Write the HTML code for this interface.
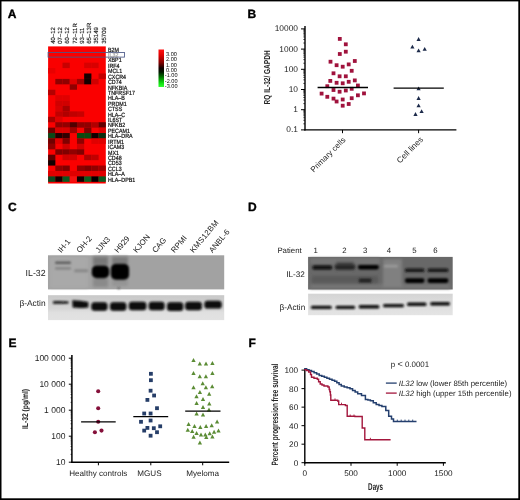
<!DOCTYPE html>
<html><head><meta charset="utf-8"><title>Figure</title>
<style>html,body{margin:0;padding:0;background:#fff;width:520px;height:500px;overflow:hidden}svg{display:block;font-family:"Liberation Sans",sans-serif}</style>
</head><body>
<svg width="520" height="500" viewBox="0 0 520 500" text-rendering="geometricPrecision"><defs><filter id="gb" x="0" y="0" width="100%" height="100%" color-interpolation-filters="sRGB"><feGaussianBlur stdDeviation="0.35"/></filter></defs>
<g filter="url(#gb)">
<rect x="0" y="0" width="520" height="500" fill="#fff"/>
<text x="7.8" y="17.9" font-size="12" font-weight="bold" stroke="#000" stroke-width="0.35" font-family="'Liberation Sans', sans-serif">A</text>
<text x="247.6" y="17.9" font-size="12" font-weight="bold" stroke="#000" stroke-width="0.35" font-family="'Liberation Sans', sans-serif">B</text>
<text x="7.9" y="211.1" font-size="12" font-weight="bold" stroke="#000" stroke-width="0.35" font-family="'Liberation Sans', sans-serif">C</text>
<text x="248" y="211.1" font-size="12" font-weight="bold" stroke="#000" stroke-width="0.35" font-family="'Liberation Sans', sans-serif">D</text>
<text x="8.5" y="346.9" font-size="12" font-weight="bold" stroke="#000" stroke-width="0.35" font-family="'Liberation Sans', sans-serif">E</text>
<text x="248.5" y="346.9" font-size="12" font-weight="bold" stroke="#000" stroke-width="0.35" font-family="'Liberation Sans', sans-serif">F</text>
<rect x="48.1" y="46.4" width="57.68" height="137.1" fill="#fa0000"/>
<rect x="62.52" y="62.64" width="7.26" height="5.46" fill="#c80000"/>
<rect x="84.15" y="62.64" width="7.26" height="5.46" fill="#d80000"/>
<rect x="91.36" y="62.64" width="7.26" height="5.46" fill="#d80000"/>
<rect x="48.1" y="68.06" width="7.26" height="5.46" fill="#e80000"/>
<rect x="84.15" y="73.47" width="7.26" height="5.46" fill="#140000"/>
<rect x="98.57" y="73.47" width="7.26" height="5.46" fill="#c40000"/>
<rect x="55.31" y="78.89" width="7.26" height="5.46" fill="#900000"/>
<rect x="62.52" y="78.89" width="7.26" height="5.46" fill="#900000"/>
<rect x="69.73" y="78.89" width="7.26" height="5.46" fill="#e00000"/>
<rect x="76.94" y="78.89" width="7.26" height="5.46" fill="#a00000"/>
<rect x="84.15" y="78.89" width="7.26" height="5.46" fill="#140000"/>
<rect x="91.36" y="78.89" width="7.26" height="5.46" fill="#d00000"/>
<rect x="69.73" y="84.31" width="7.26" height="5.46" fill="#900000"/>
<rect x="48.1" y="89.72" width="7.26" height="5.46" fill="#b40000"/>
<rect x="55.31" y="95.13" width="7.26" height="5.46" fill="#e00000"/>
<rect x="62.52" y="95.13" width="7.26" height="5.46" fill="#e00000"/>
<rect x="55.31" y="100.55" width="7.26" height="5.46" fill="#d00000"/>
<rect x="62.52" y="100.55" width="7.26" height="5.46" fill="#d00000"/>
<rect x="55.31" y="105.97" width="7.26" height="5.46" fill="#d80000"/>
<rect x="62.52" y="105.97" width="7.26" height="5.46" fill="#a80000"/>
<rect x="55.31" y="111.38" width="7.26" height="5.46" fill="#c00000"/>
<rect x="62.52" y="111.38" width="7.26" height="5.46" fill="#b00000"/>
<rect x="69.73" y="111.38" width="7.26" height="5.46" fill="#c00000"/>
<rect x="76.94" y="111.38" width="7.26" height="5.46" fill="#c80000"/>
<rect x="48.1" y="116.79" width="7.26" height="5.46" fill="#a80000"/>
<rect x="55.31" y="116.79" width="7.26" height="5.46" fill="#e00000"/>
<rect x="55.31" y="122.21" width="7.26" height="5.46" fill="#900000"/>
<rect x="62.52" y="122.21" width="7.26" height="5.46" fill="#900000"/>
<rect x="69.73" y="122.21" width="7.26" height="5.46" fill="#500000"/>
<rect x="76.94" y="122.21" width="7.26" height="5.46" fill="#900000"/>
<rect x="84.15" y="122.21" width="7.26" height="5.46" fill="#900000"/>
<rect x="91.36" y="122.21" width="7.26" height="5.46" fill="#b00000"/>
<rect x="98.57" y="122.21" width="7.26" height="5.46" fill="#600000"/>
<rect x="48.1" y="127.62" width="7.26" height="5.46" fill="#700000"/>
<rect x="55.31" y="127.62" width="7.26" height="5.46" fill="#d80000"/>
<rect x="62.52" y="127.62" width="7.26" height="5.46" fill="#d80000"/>
<rect x="69.73" y="127.62" width="7.26" height="5.46" fill="#a00000"/>
<rect x="84.15" y="127.62" width="7.26" height="5.46" fill="#800000"/>
<rect x="98.57" y="127.62" width="7.26" height="5.46" fill="#e00000"/>
<rect x="48.1" y="133.04" width="7.26" height="5.46" fill="#0a4a18"/>
<rect x="55.31" y="133.04" width="7.26" height="5.46" fill="#200000"/>
<rect x="62.52" y="133.04" width="7.26" height="5.46" fill="#300000"/>
<rect x="76.94" y="133.04" width="7.26" height="5.46" fill="#0a4a10"/>
<rect x="84.15" y="133.04" width="7.26" height="5.46" fill="#0a4a10"/>
<rect x="91.36" y="133.04" width="7.26" height="5.46" fill="#100000"/>
<rect x="98.57" y="133.04" width="7.26" height="5.46" fill="#0a3010"/>
<rect x="48.1" y="138.46" width="7.26" height="5.46" fill="#700000"/>
<rect x="55.31" y="138.46" width="7.26" height="5.46" fill="#e00000"/>
<rect x="62.52" y="138.46" width="7.26" height="5.46" fill="#800000"/>
<rect x="76.94" y="138.46" width="7.26" height="5.46" fill="#900000"/>
<rect x="91.36" y="138.46" width="7.26" height="5.46" fill="#e00000"/>
<rect x="98.57" y="138.46" width="7.26" height="5.46" fill="#e00000"/>
<rect x="48.1" y="143.87" width="7.26" height="5.46" fill="#900000"/>
<rect x="62.52" y="143.87" width="7.26" height="5.46" fill="#d00000"/>
<rect x="76.94" y="143.87" width="7.26" height="5.46" fill="#d00000"/>
<rect x="55.31" y="149.28" width="7.26" height="5.46" fill="#800000"/>
<rect x="62.52" y="149.28" width="7.26" height="5.46" fill="#800000"/>
<rect x="69.73" y="149.28" width="7.26" height="5.46" fill="#900000"/>
<rect x="76.94" y="149.28" width="7.26" height="5.46" fill="#800000"/>
<rect x="48.1" y="154.7" width="7.26" height="5.46" fill="#600000"/>
<rect x="62.52" y="154.7" width="7.26" height="5.46" fill="#d00000"/>
<rect x="69.73" y="154.7" width="7.26" height="5.46" fill="#d00000"/>
<rect x="84.15" y="154.7" width="7.26" height="5.46" fill="#b00000"/>
<rect x="91.36" y="154.7" width="7.26" height="5.46" fill="#c00000"/>
<rect x="48.1" y="160.12" width="7.26" height="5.46" fill="#100000"/>
<rect x="55.31" y="165.53" width="7.26" height="5.46" fill="#900000"/>
<rect x="62.52" y="165.53" width="7.26" height="5.46" fill="#800000"/>
<rect x="76.94" y="165.53" width="7.26" height="5.46" fill="#900000"/>
<rect x="84.15" y="165.53" width="7.26" height="5.46" fill="#800000"/>
<rect x="91.36" y="165.53" width="7.26" height="5.46" fill="#900000"/>
<rect x="98.57" y="165.53" width="7.26" height="5.46" fill="#a00000"/>
<rect x="48.1" y="170.94" width="7.26" height="5.46" fill="#e00000"/>
<rect x="55.31" y="170.94" width="7.26" height="5.46" fill="#e00000"/>
<rect x="62.52" y="170.94" width="7.26" height="5.46" fill="#e00000"/>
<rect x="69.73" y="170.94" width="7.26" height="5.46" fill="#e00000"/>
<rect x="76.94" y="170.94" width="7.26" height="5.46" fill="#e00000"/>
<rect x="84.15" y="170.94" width="7.26" height="5.46" fill="#e00000"/>
<rect x="91.36" y="170.94" width="7.26" height="5.46" fill="#e00000"/>
<rect x="98.57" y="170.94" width="7.26" height="5.46" fill="#e00000"/>
<rect x="48.1" y="176.36" width="7.26" height="5.46" fill="#0a4a20"/>
<rect x="55.31" y="176.36" width="7.26" height="5.46" fill="#100000"/>
<rect x="62.52" y="176.36" width="7.26" height="5.46" fill="#0a5a20"/>
<rect x="69.73" y="176.36" width="7.26" height="5.46" fill="#f41010"/>
<rect x="76.94" y="176.36" width="7.26" height="5.46" fill="#100000"/>
<rect x="84.15" y="176.36" width="7.26" height="5.46" fill="#0a6020"/>
<rect x="91.36" y="176.36" width="7.26" height="5.46" fill="#000000"/>
<rect x="98.57" y="176.36" width="7.26" height="5.46" fill="#0a5a20"/>
<rect x="48.1" y="52.5" width="76.4" height="4.6" fill="none" stroke="#4a5888" stroke-width="0.85"/>
<g transform="matrix(0.86,0,0,1,15.12,0)">
<text x="108" y="51.65" font-size="6.2" font-family="'Liberation Sans', sans-serif" fill="#111" stroke="#111" stroke-width="0.22">B2M</text>
<text x="108" y="57.07" font-size="6.2" font-family="'Liberation Sans', sans-serif" fill="#a0a0a0" stroke="#a0a0a0" stroke-width="0.22">IL32</text>
<text x="108" y="62.48" font-size="6.2" font-family="'Liberation Sans', sans-serif" fill="#111" stroke="#111" stroke-width="0.22">XBP1</text>
<text x="108" y="67.9" font-size="6.2" font-family="'Liberation Sans', sans-serif" fill="#111" stroke="#111" stroke-width="0.22">IRF4</text>
<text x="108" y="73.31" font-size="6.2" font-family="'Liberation Sans', sans-serif" fill="#111" stroke="#111" stroke-width="0.22">MCL1</text>
<text x="108" y="78.73" font-size="6.2" font-family="'Liberation Sans', sans-serif" fill="#111" stroke="#111" stroke-width="0.22">CXCR4</text>
<text x="108" y="84.14" font-size="6.2" font-family="'Liberation Sans', sans-serif" fill="#111" stroke="#111" stroke-width="0.22">CD74</text>
<text x="108" y="89.56" font-size="6.2" font-family="'Liberation Sans', sans-serif" fill="#111" stroke="#111" stroke-width="0.22">NFKBIA</text>
<text x="108" y="94.97" font-size="6.2" font-family="'Liberation Sans', sans-serif" fill="#111" stroke="#111" stroke-width="0.22">TNFRSF17</text>
<text x="108" y="100.39" font-size="6.2" font-family="'Liberation Sans', sans-serif" fill="#111" stroke="#111" stroke-width="0.22">HLA–B</text>
<text x="108" y="105.8" font-size="6.2" font-family="'Liberation Sans', sans-serif" fill="#111" stroke="#111" stroke-width="0.22">PRDM1</text>
<text x="108" y="111.22" font-size="6.2" font-family="'Liberation Sans', sans-serif" fill="#111" stroke="#111" stroke-width="0.22">CTSS</text>
<text x="108" y="116.63" font-size="6.2" font-family="'Liberation Sans', sans-serif" fill="#111" stroke="#111" stroke-width="0.22">HLA–C</text>
<text x="108" y="122.05" font-size="6.2" font-family="'Liberation Sans', sans-serif" fill="#111" stroke="#111" stroke-width="0.22">IL6ST</text>
<text x="108" y="127.46" font-size="6.2" font-family="'Liberation Sans', sans-serif" fill="#111" stroke="#111" stroke-width="0.22">NFKB2</text>
<text x="108" y="132.88" font-size="6.2" font-family="'Liberation Sans', sans-serif" fill="#111" stroke="#111" stroke-width="0.22">PECAM1</text>
<text x="108" y="138.29" font-size="6.2" font-family="'Liberation Sans', sans-serif" fill="#111" stroke="#111" stroke-width="0.22">HLA–DRA</text>
<text x="108" y="143.7" font-size="6.2" font-family="'Liberation Sans', sans-serif" fill="#111" stroke="#111" stroke-width="0.22">IRTM1</text>
<text x="108" y="149.12" font-size="6.2" font-family="'Liberation Sans', sans-serif" fill="#111" stroke="#111" stroke-width="0.22">ICAM3</text>
<text x="108" y="154.53" font-size="6.2" font-family="'Liberation Sans', sans-serif" fill="#111" stroke="#111" stroke-width="0.22">MX1</text>
<text x="108" y="159.95" font-size="6.2" font-family="'Liberation Sans', sans-serif" fill="#111" stroke="#111" stroke-width="0.22">CD48</text>
<text x="108" y="165.37" font-size="6.2" font-family="'Liberation Sans', sans-serif" fill="#111" stroke="#111" stroke-width="0.22">CD53</text>
<text x="108" y="170.78" font-size="6.2" font-family="'Liberation Sans', sans-serif" fill="#111" stroke="#111" stroke-width="0.22">CCL3</text>
<text x="108" y="176.19" font-size="6.2" font-family="'Liberation Sans', sans-serif" fill="#111" stroke="#111" stroke-width="0.22">HLA–A</text>
<text x="108" y="181.61" font-size="6.2" font-family="'Liberation Sans', sans-serif" fill="#111" stroke="#111" stroke-width="0.22">HLA–DPB1</text>
</g>
<text transform="translate(54.9,43.8) rotate(-90)" font-size="6.0" font-family="'Liberation Sans', sans-serif" fill="#111" stroke="#111" stroke-width="0.12">40–12</text>
<text transform="translate(62.15,43.8) rotate(-90)" font-size="6.0" font-family="'Liberation Sans', sans-serif" fill="#111" stroke="#111" stroke-width="0.12">07–12</text>
<text transform="translate(69.4,43.8) rotate(-90)" font-size="6.0" font-family="'Liberation Sans', sans-serif" fill="#111" stroke="#111" stroke-width="0.12">60–12</text>
<text transform="translate(76.65,43.8) rotate(-90)" font-size="6.0" font-family="'Liberation Sans', sans-serif" fill="#111" stroke="#111" stroke-width="0.12">72–11R</text>
<text transform="translate(83.9,43.8) rotate(-90)" font-size="6.0" font-family="'Liberation Sans', sans-serif" fill="#111" stroke="#111" stroke-width="0.12">93–11</text>
<text transform="translate(91.15,43.8) rotate(-90)" font-size="6.0" font-family="'Liberation Sans', sans-serif" fill="#111" stroke="#111" stroke-width="0.12">65–13R</text>
<text transform="translate(98.4,43.8) rotate(-90)" font-size="6.0" font-family="'Liberation Sans', sans-serif" fill="#111" stroke="#111" stroke-width="0.12">35149</text>
<text transform="translate(105.65,43.8) rotate(-90)" font-size="6.0" font-family="'Liberation Sans', sans-serif" fill="#111" stroke="#111" stroke-width="0.12">35709</text>
<defs><linearGradient id="cb" x1="0" y1="0" x2="0" y2="1"><stop offset="0" stop-color="#ff1010"/><stop offset="0.15" stop-color="#e00000"/><stop offset="0.35" stop-color="#800000"/><stop offset="0.5" stop-color="#100000"/><stop offset="0.6" stop-color="#001800"/><stop offset="0.75" stop-color="#008000"/><stop offset="0.9" stop-color="#10e010"/><stop offset="1" stop-color="#30ff30"/></linearGradient></defs>
<rect x="158.5" y="49.5" width="5.5" height="37.5" fill="url(#cb)"/>
<text transform="translate(166,56)" font-size="5.6" font-family="'Liberation Sans', sans-serif" fill="#111">3.00</text>
<text transform="translate(166,61.33)" font-size="5.6" font-family="'Liberation Sans', sans-serif" fill="#111">2.00</text>
<text transform="translate(166,66.66)" font-size="5.6" font-family="'Liberation Sans', sans-serif" fill="#111">1.00</text>
<text transform="translate(166,71.99)" font-size="5.6" font-family="'Liberation Sans', sans-serif" fill="#111">0.00</text>
<text transform="translate(164.8,77.32)" font-size="5.6" font-family="'Liberation Sans', sans-serif" fill="#111">-1.00</text>
<text transform="translate(164.8,82.65)" font-size="5.6" font-family="'Liberation Sans', sans-serif" fill="#111">-2.00</text>
<text transform="translate(164.8,87.98)" font-size="5.6" font-family="'Liberation Sans', sans-serif" fill="#111">-3.00</text>
<line x1="305" y1="26" x2="305" y2="130.6" stroke="#000" stroke-width="1.4"/>
<line x1="304.3" y1="129.9" x2="456.4" y2="129.9" stroke="#000" stroke-width="1.4"/>
<line x1="301" y1="129.9" x2="305" y2="129.9" stroke="#000" stroke-width="1"/>
<text x="298" y="132.4" font-size="8.4" text-anchor="end" font-family="'Liberation Sans', sans-serif" fill="#222">0.1</text>
<line x1="303.3" y1="123.82" x2="305" y2="123.82" stroke="#000" stroke-width="0.7"/>
<line x1="303.3" y1="120.26" x2="305" y2="120.26" stroke="#000" stroke-width="0.7"/>
<line x1="303.3" y1="117.74" x2="305" y2="117.74" stroke="#000" stroke-width="0.7"/>
<line x1="303.3" y1="115.78" x2="305" y2="115.78" stroke="#000" stroke-width="0.7"/>
<line x1="303.3" y1="114.18" x2="305" y2="114.18" stroke="#000" stroke-width="0.7"/>
<line x1="303.3" y1="112.83" x2="305" y2="112.83" stroke="#000" stroke-width="0.7"/>
<line x1="303.3" y1="111.66" x2="305" y2="111.66" stroke="#000" stroke-width="0.7"/>
<line x1="303.3" y1="110.62" x2="305" y2="110.62" stroke="#000" stroke-width="0.7"/>
<line x1="301" y1="109.7" x2="305" y2="109.7" stroke="#000" stroke-width="1"/>
<text x="298" y="112.2" font-size="8.4" text-anchor="end" font-family="'Liberation Sans', sans-serif" fill="#222">1</text>
<line x1="303.3" y1="103.62" x2="305" y2="103.62" stroke="#000" stroke-width="0.7"/>
<line x1="303.3" y1="100.06" x2="305" y2="100.06" stroke="#000" stroke-width="0.7"/>
<line x1="303.3" y1="97.54" x2="305" y2="97.54" stroke="#000" stroke-width="0.7"/>
<line x1="303.3" y1="95.58" x2="305" y2="95.58" stroke="#000" stroke-width="0.7"/>
<line x1="303.3" y1="93.98" x2="305" y2="93.98" stroke="#000" stroke-width="0.7"/>
<line x1="303.3" y1="92.63" x2="305" y2="92.63" stroke="#000" stroke-width="0.7"/>
<line x1="303.3" y1="91.46" x2="305" y2="91.46" stroke="#000" stroke-width="0.7"/>
<line x1="303.3" y1="90.42" x2="305" y2="90.42" stroke="#000" stroke-width="0.7"/>
<line x1="301" y1="89.5" x2="305" y2="89.5" stroke="#000" stroke-width="1"/>
<text x="298" y="92" font-size="8.4" text-anchor="end" font-family="'Liberation Sans', sans-serif" fill="#222">10</text>
<line x1="303.3" y1="83.42" x2="305" y2="83.42" stroke="#000" stroke-width="0.7"/>
<line x1="303.3" y1="79.86" x2="305" y2="79.86" stroke="#000" stroke-width="0.7"/>
<line x1="303.3" y1="77.34" x2="305" y2="77.34" stroke="#000" stroke-width="0.7"/>
<line x1="303.3" y1="75.38" x2="305" y2="75.38" stroke="#000" stroke-width="0.7"/>
<line x1="303.3" y1="73.78" x2="305" y2="73.78" stroke="#000" stroke-width="0.7"/>
<line x1="303.3" y1="72.43" x2="305" y2="72.43" stroke="#000" stroke-width="0.7"/>
<line x1="303.3" y1="71.26" x2="305" y2="71.26" stroke="#000" stroke-width="0.7"/>
<line x1="303.3" y1="70.22" x2="305" y2="70.22" stroke="#000" stroke-width="0.7"/>
<line x1="301" y1="69.3" x2="305" y2="69.3" stroke="#000" stroke-width="1"/>
<text x="298" y="71.8" font-size="8.4" text-anchor="end" font-family="'Liberation Sans', sans-serif" fill="#222">100</text>
<line x1="303.3" y1="63.22" x2="305" y2="63.22" stroke="#000" stroke-width="0.7"/>
<line x1="303.3" y1="59.66" x2="305" y2="59.66" stroke="#000" stroke-width="0.7"/>
<line x1="303.3" y1="57.14" x2="305" y2="57.14" stroke="#000" stroke-width="0.7"/>
<line x1="303.3" y1="55.18" x2="305" y2="55.18" stroke="#000" stroke-width="0.7"/>
<line x1="303.3" y1="53.58" x2="305" y2="53.58" stroke="#000" stroke-width="0.7"/>
<line x1="303.3" y1="52.23" x2="305" y2="52.23" stroke="#000" stroke-width="0.7"/>
<line x1="303.3" y1="51.06" x2="305" y2="51.06" stroke="#000" stroke-width="0.7"/>
<line x1="303.3" y1="50.02" x2="305" y2="50.02" stroke="#000" stroke-width="0.7"/>
<line x1="301" y1="49.1" x2="305" y2="49.1" stroke="#000" stroke-width="1"/>
<text x="298" y="51.6" font-size="8.4" text-anchor="end" font-family="'Liberation Sans', sans-serif" fill="#222">1000</text>
<line x1="303.3" y1="43.02" x2="305" y2="43.02" stroke="#000" stroke-width="0.7"/>
<line x1="303.3" y1="39.46" x2="305" y2="39.46" stroke="#000" stroke-width="0.7"/>
<line x1="303.3" y1="36.94" x2="305" y2="36.94" stroke="#000" stroke-width="0.7"/>
<line x1="303.3" y1="34.98" x2="305" y2="34.98" stroke="#000" stroke-width="0.7"/>
<line x1="303.3" y1="33.38" x2="305" y2="33.38" stroke="#000" stroke-width="0.7"/>
<line x1="303.3" y1="32.03" x2="305" y2="32.03" stroke="#000" stroke-width="0.7"/>
<line x1="303.3" y1="30.86" x2="305" y2="30.86" stroke="#000" stroke-width="0.7"/>
<line x1="303.3" y1="29.82" x2="305" y2="29.82" stroke="#000" stroke-width="0.7"/>
<line x1="301" y1="28.9" x2="305" y2="28.9" stroke="#000" stroke-width="1"/>
<text x="298" y="31.4" font-size="8.4" text-anchor="end" font-family="'Liberation Sans', sans-serif" fill="#222">10000</text>
<line x1="342.5" y1="129.9" x2="342.5" y2="133.2" stroke="#000" stroke-width="1"/>
<line x1="418.6" y1="129.9" x2="418.6" y2="133.2" stroke="#000" stroke-width="1"/>
<text transform="translate(270,77.4) rotate(-90)" font-size="8.6" font-weight="bold" text-anchor="middle" textLength="54" lengthAdjust="spacingAndGlyphs" font-family="'Liberation Sans', sans-serif" fill="#222">RQ IL-32/ GAPDH</text>
<text transform="translate(346,140.5) rotate(-45)" font-size="8" text-anchor="end" font-family="'Liberation Sans', sans-serif" fill="#222">Primary cells</text>
<text transform="translate(423.6,140.2) rotate(-45)" font-size="8.2" text-anchor="end" font-family="'Liberation Sans', sans-serif" fill="#222">Cell lines</text>
<rect x="337.9" y="37" width="3.8" height="3.8" fill="#a0123c"/>
<rect x="343.9" y="42.4" width="3.8" height="3.8" fill="#a0123c"/>
<rect x="343.9" y="49.8" width="3.8" height="3.8" fill="#a0123c"/>
<rect x="337.9" y="52.1" width="3.8" height="3.8" fill="#a0123c"/>
<rect x="328.6" y="59.8" width="3.8" height="3.8" fill="#a0123c"/>
<rect x="334.7" y="63.3" width="3.8" height="3.8" fill="#a0123c"/>
<rect x="340.8" y="64.8" width="3.8" height="3.8" fill="#a0123c"/>
<rect x="346.8" y="62.5" width="3.8" height="3.8" fill="#a0123c"/>
<rect x="352.9" y="59.1" width="3.8" height="3.8" fill="#a0123c"/>
<rect x="349.8" y="68.9" width="3.8" height="3.8" fill="#a0123c"/>
<rect x="331.6" y="71.4" width="3.8" height="3.8" fill="#a0123c"/>
<rect x="337.7" y="74.4" width="3.8" height="3.8" fill="#a0123c"/>
<rect x="343.9" y="74.4" width="3.8" height="3.8" fill="#a0123c"/>
<rect x="328.4" y="79" width="3.8" height="3.8" fill="#a0123c"/>
<rect x="334.7" y="80.9" width="3.8" height="3.8" fill="#a0123c"/>
<rect x="340.8" y="81.4" width="3.8" height="3.8" fill="#a0123c"/>
<rect x="346.8" y="79.9" width="3.8" height="3.8" fill="#a0123c"/>
<rect x="352.9" y="78.5" width="3.8" height="3.8" fill="#a0123c"/>
<rect x="325.4" y="84.3" width="3.8" height="3.8" fill="#a0123c"/>
<rect x="356" y="83.6" width="3.8" height="3.8" fill="#a0123c"/>
<rect x="331.6" y="88.1" width="3.8" height="3.8" fill="#a0123c"/>
<rect x="337.7" y="89.8" width="3.8" height="3.8" fill="#a0123c"/>
<rect x="343.9" y="88.6" width="3.8" height="3.8" fill="#a0123c"/>
<rect x="349.8" y="86.9" width="3.8" height="3.8" fill="#a0123c"/>
<rect x="319.7" y="91.7" width="3.8" height="3.8" fill="#a0123c"/>
<rect x="362.1" y="91.5" width="3.8" height="3.8" fill="#a0123c"/>
<rect x="325.4" y="94.9" width="3.8" height="3.8" fill="#a0123c"/>
<rect x="331.6" y="96.7" width="3.8" height="3.8" fill="#a0123c"/>
<rect x="334.7" y="99.6" width="3.8" height="3.8" fill="#a0123c"/>
<rect x="340.8" y="97.6" width="3.8" height="3.8" fill="#a0123c"/>
<rect x="349.8" y="96.3" width="3.8" height="3.8" fill="#a0123c"/>
<rect x="356" y="93.4" width="3.8" height="3.8" fill="#a0123c"/>
<rect x="340.8" y="103.8" width="3.8" height="3.8" fill="#a0123c"/>
<rect x="346.8" y="102.1" width="3.8" height="3.8" fill="#a0123c"/>
<line x1="317.6" y1="87.5" x2="368" y2="87.5" stroke="#000" stroke-width="1.3"/>
<path d="M418.6 37.1L420.7 40.9L416.5 40.9Z" fill="#1c2a4a"/>
<path d="M412.4 44.8L414.5 48.6L410.3 48.6Z" fill="#1c2a4a"/>
<path d="M418.6 48.4L420.7 52.2L416.5 52.2Z" fill="#1c2a4a"/>
<path d="M424.7 47L426.8 50.8L422.6 50.8Z" fill="#1c2a4a"/>
<path d="M418.6 86.5L420.7 90.3L416.5 90.3Z" fill="#1c2a4a"/>
<path d="M418.6 96.1L420.7 99.9L416.5 99.9Z" fill="#1c2a4a"/>
<path d="M418.6 103.4L420.7 107.2L416.5 107.2Z" fill="#1c2a4a"/>
<path d="M421.6 109.2L423.7 113L419.5 113Z" fill="#1c2a4a"/>
<path d="M415.5 112.1L417.6 115.9L413.4 115.9Z" fill="#1c2a4a"/>
<line x1="393.6" y1="88.2" x2="443.8" y2="88.2" stroke="#000" stroke-width="1.3"/>
<defs><filter id="bl1" x="-20%" y="-50%" width="140%" height="200%"><feGaussianBlur stdDeviation="0.9"/></filter><filter id="bl2" x="-30%" y="-80%" width="160%" height="260%"><feGaussianBlur stdDeviation="1.6"/></filter><filter id="bl0" x="-5%" y="-5%" width="110%" height="110%"><feGaussianBlur stdDeviation="0.45"/></filter><linearGradient id="cl" x1="0" y1="0" x2="0" y2="1"><stop offset="0" stop-color="#c8c8c8"/><stop offset="0.55" stop-color="#d6d6d6"/><stop offset="0.7" stop-color="#e0e0e0"/><stop offset="1" stop-color="#e2e2e2"/></linearGradient><linearGradient id="dl" x1="0" y1="0" x2="0" y2="1"><stop offset="0" stop-color="#d4d4d4"/><stop offset="0.5" stop-color="#dedede"/><stop offset="1" stop-color="#e4e4e4"/></linearGradient></defs>
<g filter="url(#bl0)">
<rect x="48" y="255.3" width="176.2" height="34.1" fill="#a2a2a2"/>
<rect x="48" y="295.2" width="176.2" height="24.9" fill="url(#cl)"/>
</g>
<rect x="50" y="257" width="38" height="31" fill="#a9a9a9" filter="url(#bl2)"/>
<g filter="url(#bl2)">
<rect x="93" y="256.5" width="15" height="9" fill="#787878"/>
<rect x="93" y="278" width="15" height="9" fill="#8a8a8a"/>
<rect x="112" y="256.5" width="16" height="8" fill="#7c7c7c"/>
<rect x="112" y="279" width="16" height="7" fill="#949494"/>
</g>
<g filter="url(#bl1)">
<rect x="55" y="261.4" width="16" height="2.6" rx="1.2" fill="#5c5c5c"/>
<rect x="55" y="267.2" width="16" height="2.4" rx="1.2" fill="#808080"/>
<rect x="74" y="269.2" width="14.4" height="3" rx="1.5" fill="#888888"/>
<rect x="91.8" y="265.4" width="17.4" height="12.8" rx="5" fill="#050505"/>
<rect x="110.9" y="263.8" width="18.2" height="16" rx="5" fill="#050505"/>
<circle cx="118.7" cy="288.3" r="0.9" fill="#333"/>
<path d="M53 301.2 Q60 300.8 68.5 301.6 L68.5 303.6 Q60 303.8 53 303.8 Z" fill="#0a0a0a"/>
<path d="M72.3 300.2 Q80 300.4 88.4 302 L88.4 307.4 Q80 308.4 72.6 307.6 Z" fill="#0a0a0a"/>
<rect x="91.3" y="302.3" width="16.2" height="8.4" rx="3.2" fill="#080808"/>
<rect x="110" y="302.3" width="16.4" height="8.4" rx="3.2" fill="#080808"/>
<rect x="128.8" y="301.8" width="17.6" height="8.4" rx="3.2" fill="#080808"/>
<rect x="148.7" y="301.8" width="15.9" height="8.4" rx="3.2" fill="#080808"/>
<rect x="167" y="302.3" width="16.3" height="8.6" rx="3.2" fill="#080808"/>
<rect x="185.2" y="301.8" width="16.7" height="8.4" rx="3.2" fill="#080808"/>
<rect x="204.4" y="300.8" width="17.3" height="7.8" rx="3.2" fill="#080808"/>
</g>
<text x="25.6" y="275.7" font-size="8.8" font-family="'Liberation Sans', sans-serif" fill="#222">IL-32</text>
<text x="19.4" y="306.1" font-size="8.4" font-family="'Liberation Sans', sans-serif" fill="#222">β-Actin</text>
<text transform="translate(61.2,253.3) rotate(-50)" font-size="7.9" font-family="'Liberation Sans', sans-serif" fill="#222">IH-1</text>
<text transform="translate(80.1,253.3) rotate(-50)" font-size="7.9" font-family="'Liberation Sans', sans-serif" fill="#222">OH-2</text>
<text transform="translate(99,253.3) rotate(-50)" font-size="7.9" font-family="'Liberation Sans', sans-serif" fill="#222">JJN3</text>
<text transform="translate(117.9,253.3) rotate(-50)" font-size="7.9" font-family="'Liberation Sans', sans-serif" fill="#222">H929</text>
<text transform="translate(136.8,253.3) rotate(-50)" font-size="7.9" font-family="'Liberation Sans', sans-serif" fill="#222">KJON</text>
<text transform="translate(155.7,253.3) rotate(-50)" font-size="7.9" font-family="'Liberation Sans', sans-serif" fill="#222">CAG</text>
<text transform="translate(174.6,253.3) rotate(-50)" font-size="7.9" font-family="'Liberation Sans', sans-serif" fill="#222">RPMI</text>
<text transform="translate(193.5,253.3) rotate(-50)" font-size="7.9" textLength="39.5" lengthAdjust="spacing" font-family="'Liberation Sans', sans-serif" fill="#222">KMS12BM</text>
<text transform="translate(212.4,253.3) rotate(-50)" font-size="7.9" font-family="'Liberation Sans', sans-serif" fill="#222">ANBL-6</text>
<g filter="url(#bl0)">
<rect x="308.1" y="256.9" width="144.6" height="32.6" fill="#686868"/>
<rect x="308.1" y="293.7" width="144.6" height="21.5" fill="url(#dl)"/>
</g>
<g filter="url(#bl2)">
<rect x="310" y="258" width="70" height="6" fill="#767676"/>
<rect x="310" y="284" width="140" height="5" fill="#747474"/>
<rect x="383" y="259" width="19" height="28" fill="#808080"/>
<rect x="336" y="262" width="18" height="8" fill="#404040"/>
<rect x="312" y="276" width="66" height="8" fill="#5a5a5a"/>
</g>
<g filter="url(#bl1)">
<rect x="312.5" y="265.6" width="19.5" height="4" rx="1.6" fill="#080808"/>
<rect x="335" y="265.3" width="20" height="3.6" rx="1.5" fill="#262626"/>
<rect x="358" y="265" width="20.8" height="4.4" rx="1.8" fill="#060606"/>
<rect x="358.6" y="278.6" width="13" height="4" rx="1.5" fill="#222222"/>
<rect x="384" y="264.8" width="14" height="2.8" rx="1.2" fill="#9a9a9a"/>
<rect x="405" y="268.5" width="19.4" height="3.6" rx="1.5" fill="#121212"/>
<rect x="405" y="278.3" width="19.4" height="4.6" rx="1.8" fill="#050505"/>
<rect x="427.6" y="268.5" width="20.7" height="3.6" rx="1.5" fill="#121212"/>
<rect x="427.6" y="278.3" width="20.7" height="4.6" rx="1.8" fill="#050505"/>
<rect x="310.8" y="305.7" width="21" height="3.4" rx="1.5" fill="#0a0a0a"/>
<rect x="335.5" y="305.7" width="19.7" height="3.4" rx="1.5" fill="#0a0a0a"/>
<rect x="358.7" y="305" width="20.7" height="3.4" rx="1.5" fill="#0a0a0a"/>
<rect x="383" y="303.9" width="21" height="3.4" rx="1.5" fill="#0a0a0a"/>
<rect x="407" y="302.6" width="19.5" height="3.4" rx="1.5" fill="#0a0a0a"/>
<rect x="430.2" y="302.1" width="19.8" height="3.4" rx="1.5" fill="#0a0a0a"/>
</g>
<text x="286.2" y="276.6" font-size="8.2" font-family="'Liberation Sans', sans-serif" fill="#222">IL-32</text>
<text x="279.6" y="309.6" font-size="8.2" font-family="'Liberation Sans', sans-serif" fill="#222">β-Actin</text>
<text x="277.4" y="253.3" font-size="7.8" font-family="'Liberation Sans', sans-serif" fill="#222">Patient</text>
<text x="315.6" y="253.3" font-size="7.8" text-anchor="middle" font-family="'Liberation Sans', sans-serif" fill="#222">1</text>
<text x="344.4" y="253.3" font-size="7.8" text-anchor="middle" font-family="'Liberation Sans', sans-serif" fill="#222">2</text>
<text x="365.2" y="253.3" font-size="7.8" text-anchor="middle" font-family="'Liberation Sans', sans-serif" fill="#222">3</text>
<text x="388.9" y="253.3" font-size="7.8" text-anchor="middle" font-family="'Liberation Sans', sans-serif" fill="#222">4</text>
<text x="414.4" y="253.3" font-size="7.8" text-anchor="middle" font-family="'Liberation Sans', sans-serif" fill="#222">5</text>
<text x="435.4" y="253.3" font-size="7.8" text-anchor="middle" font-family="'Liberation Sans', sans-serif" fill="#222">6</text>
<line x1="71.9" y1="355" x2="71.9" y2="462.9" stroke="#000" stroke-width="1.5"/>
<line x1="71.2" y1="462.2" x2="229.2" y2="462.2" stroke="#000" stroke-width="1.5"/>
<line x1="68.8" y1="462.2" x2="72" y2="462.2" stroke="#000" stroke-width="1"/>
<text x="65.4" y="465.2" font-size="8.5" text-anchor="end" font-family="'Liberation Sans', sans-serif" fill="#222">10</text>
<line x1="70.6" y1="454.37" x2="72" y2="454.37" stroke="#000" stroke-width="0.7"/>
<line x1="70.6" y1="449.79" x2="72" y2="449.79" stroke="#000" stroke-width="0.7"/>
<line x1="70.6" y1="446.55" x2="72" y2="446.55" stroke="#000" stroke-width="0.7"/>
<line x1="70.6" y1="444.03" x2="72" y2="444.03" stroke="#000" stroke-width="0.7"/>
<line x1="70.6" y1="441.97" x2="72" y2="441.97" stroke="#000" stroke-width="0.7"/>
<line x1="70.6" y1="440.23" x2="72" y2="440.23" stroke="#000" stroke-width="0.7"/>
<line x1="70.6" y1="438.72" x2="72" y2="438.72" stroke="#000" stroke-width="0.7"/>
<line x1="70.6" y1="437.39" x2="72" y2="437.39" stroke="#000" stroke-width="0.7"/>
<line x1="68.8" y1="436.2" x2="72" y2="436.2" stroke="#000" stroke-width="1"/>
<text x="65.4" y="439.2" font-size="8.5" text-anchor="end" font-family="'Liberation Sans', sans-serif" fill="#222">100</text>
<line x1="70.6" y1="428.37" x2="72" y2="428.37" stroke="#000" stroke-width="0.7"/>
<line x1="70.6" y1="423.79" x2="72" y2="423.79" stroke="#000" stroke-width="0.7"/>
<line x1="70.6" y1="420.55" x2="72" y2="420.55" stroke="#000" stroke-width="0.7"/>
<line x1="70.6" y1="418.03" x2="72" y2="418.03" stroke="#000" stroke-width="0.7"/>
<line x1="70.6" y1="415.97" x2="72" y2="415.97" stroke="#000" stroke-width="0.7"/>
<line x1="70.6" y1="414.23" x2="72" y2="414.23" stroke="#000" stroke-width="0.7"/>
<line x1="70.6" y1="412.72" x2="72" y2="412.72" stroke="#000" stroke-width="0.7"/>
<line x1="70.6" y1="411.39" x2="72" y2="411.39" stroke="#000" stroke-width="0.7"/>
<line x1="68.8" y1="410.2" x2="72" y2="410.2" stroke="#000" stroke-width="1"/>
<text x="65.4" y="413.2" font-size="8.5" text-anchor="end" font-family="'Liberation Sans', sans-serif" fill="#222">1 000</text>
<line x1="70.6" y1="402.37" x2="72" y2="402.37" stroke="#000" stroke-width="0.7"/>
<line x1="70.6" y1="397.79" x2="72" y2="397.79" stroke="#000" stroke-width="0.7"/>
<line x1="70.6" y1="394.55" x2="72" y2="394.55" stroke="#000" stroke-width="0.7"/>
<line x1="70.6" y1="392.03" x2="72" y2="392.03" stroke="#000" stroke-width="0.7"/>
<line x1="70.6" y1="389.97" x2="72" y2="389.97" stroke="#000" stroke-width="0.7"/>
<line x1="70.6" y1="388.23" x2="72" y2="388.23" stroke="#000" stroke-width="0.7"/>
<line x1="70.6" y1="386.72" x2="72" y2="386.72" stroke="#000" stroke-width="0.7"/>
<line x1="70.6" y1="385.39" x2="72" y2="385.39" stroke="#000" stroke-width="0.7"/>
<line x1="68.8" y1="384.2" x2="72" y2="384.2" stroke="#000" stroke-width="1"/>
<text x="65.4" y="387.2" font-size="8.5" text-anchor="end" font-family="'Liberation Sans', sans-serif" fill="#222">10 000</text>
<line x1="70.6" y1="376.37" x2="72" y2="376.37" stroke="#000" stroke-width="0.7"/>
<line x1="70.6" y1="371.79" x2="72" y2="371.79" stroke="#000" stroke-width="0.7"/>
<line x1="70.6" y1="368.55" x2="72" y2="368.55" stroke="#000" stroke-width="0.7"/>
<line x1="70.6" y1="366.03" x2="72" y2="366.03" stroke="#000" stroke-width="0.7"/>
<line x1="70.6" y1="363.97" x2="72" y2="363.97" stroke="#000" stroke-width="0.7"/>
<line x1="70.6" y1="362.23" x2="72" y2="362.23" stroke="#000" stroke-width="0.7"/>
<line x1="70.6" y1="360.72" x2="72" y2="360.72" stroke="#000" stroke-width="0.7"/>
<line x1="70.6" y1="359.39" x2="72" y2="359.39" stroke="#000" stroke-width="0.7"/>
<line x1="68.8" y1="358.2" x2="72" y2="358.2" stroke="#000" stroke-width="1"/>
<text x="65.4" y="361.2" font-size="8.5" text-anchor="end" font-family="'Liberation Sans', sans-serif" fill="#222">100 000</text>
<line x1="98.4" y1="462.2" x2="98.4" y2="465.3" stroke="#000" stroke-width="1"/>
<line x1="150.8" y1="462.2" x2="150.8" y2="465.3" stroke="#000" stroke-width="1"/>
<line x1="202.7" y1="462.2" x2="202.7" y2="465.3" stroke="#000" stroke-width="1"/>
<text x="98.3" y="476" font-size="8.1" text-anchor="middle" font-family="'Liberation Sans', sans-serif" fill="#222">Healthy controls</text>
<text x="149.4" y="476" font-size="8.1" text-anchor="middle" font-family="'Liberation Sans', sans-serif" fill="#222">MGUS</text>
<text x="202.7" y="476" font-size="8.1" text-anchor="middle" font-family="'Liberation Sans', sans-serif" fill="#222">Myeloma</text>
<text transform="translate(28.2,409) rotate(-90)" font-size="8.4" font-weight="bold" text-anchor="middle" textLength="40" lengthAdjust="spacingAndGlyphs" font-family="'Liberation Sans', sans-serif" fill="#222">IL-32 (pg/ml)</text>
<circle cx="98.2" cy="391.3" r="2.05" fill="#85103a"/>
<circle cx="98.2" cy="408.3" r="2.05" fill="#85103a"/>
<circle cx="98.2" cy="421.8" r="2.05" fill="#85103a"/>
<circle cx="94.9" cy="432.2" r="2.05" fill="#85103a"/>
<circle cx="101.5" cy="430.6" r="2.05" fill="#85103a"/>
<line x1="81.1" y1="421.8" x2="115.7" y2="421.8" stroke="#000" stroke-width="1.3"/>
<rect x="149" y="371.9" width="3.8" height="3.8" fill="#263e68"/>
<rect x="149" y="378.3" width="3.8" height="3.8" fill="#263e68"/>
<rect x="148.7" y="388.8" width="3.8" height="3.8" fill="#263e68"/>
<rect x="152.2" y="393.6" width="3.8" height="3.8" fill="#263e68"/>
<rect x="145.5" y="398" width="3.8" height="3.8" fill="#263e68"/>
<rect x="155.1" y="406.3" width="3.8" height="3.8" fill="#263e68"/>
<rect x="142.3" y="411.6" width="3.8" height="3.8" fill="#263e68"/>
<rect x="148.7" y="411.6" width="3.8" height="3.8" fill="#263e68"/>
<rect x="139.1" y="419.9" width="3.8" height="3.8" fill="#263e68"/>
<rect x="148.7" y="418.6" width="3.8" height="3.8" fill="#263e68"/>
<rect x="158.3" y="424.4" width="3.8" height="3.8" fill="#263e68"/>
<rect x="145.5" y="426" width="3.8" height="3.8" fill="#263e68"/>
<rect x="151.9" y="426.3" width="3.8" height="3.8" fill="#263e68"/>
<rect x="142.3" y="428.7" width="3.8" height="3.8" fill="#263e68"/>
<rect x="155.1" y="430.3" width="3.8" height="3.8" fill="#263e68"/>
<rect x="148.7" y="433.8" width="3.8" height="3.8" fill="#263e68"/>
<line x1="133.3" y1="416.6" x2="168.2" y2="416.6" stroke="#000" stroke-width="1.3"/>
<path d="M193.5 358L195.65 362L191.35 362Z" fill="#5b8c35"/>
<path d="M199.8 361.4L201.95 365.4L197.65 365.4Z" fill="#5b8c35"/>
<path d="M206 361.4L208.15 365.4L203.85 365.4Z" fill="#5b8c35"/>
<path d="M212.4 361.1L214.55 365.1L210.25 365.1Z" fill="#5b8c35"/>
<path d="M193.5 371.1L195.65 375.1L191.35 375.1Z" fill="#5b8c35"/>
<path d="M199.8 374.2L201.95 378.2L197.65 378.2Z" fill="#5b8c35"/>
<path d="M205.9 374.2L208.05 378.2L203.75 378.2Z" fill="#5b8c35"/>
<path d="M212.4 371L214.55 375L210.25 375Z" fill="#5b8c35"/>
<path d="M202.7 381.2L204.85 385.2L200.55 385.2Z" fill="#5b8c35"/>
<path d="M193.5 385.2L195.65 389.2L191.35 389.2Z" fill="#5b8c35"/>
<path d="M205.9 385.2L208.05 389.2L203.75 389.2Z" fill="#5b8c35"/>
<path d="M212.2 384.3L214.35 388.3L210.05 388.3Z" fill="#5b8c35"/>
<path d="M199.9 390L202.05 394L197.75 394Z" fill="#5b8c35"/>
<path d="M209.2 391.7L211.35 395.7L207.05 395.7Z" fill="#5b8c35"/>
<path d="M196.5 394.3L198.65 398.3L194.35 398.3Z" fill="#5b8c35"/>
<path d="M203 397L205.15 401L200.85 401Z" fill="#5b8c35"/>
<path d="M196.6 400.9L198.75 404.9L194.45 404.9Z" fill="#5b8c35"/>
<path d="M209.3 401.5L211.45 405.5L207.15 405.5Z" fill="#5b8c35"/>
<path d="M203 405L205.15 409L200.85 409Z" fill="#5b8c35"/>
<path d="M209 407.5L211.15 411.5L206.85 411.5Z" fill="#5b8c35"/>
<path d="M196.6 411.6L198.75 415.6L194.45 415.6Z" fill="#5b8c35"/>
<path d="M203 412.5L205.15 416.5L200.85 416.5Z" fill="#5b8c35"/>
<path d="M217.1 419.4L219.25 423.4L214.95 423.4Z" fill="#5b8c35"/>
<path d="M188.6 421.9L190.75 425.9L186.45 425.9Z" fill="#5b8c35"/>
<path d="M194.5 424.1L196.65 428.1L192.35 428.1Z" fill="#5b8c35"/>
<path d="M200.3 425L202.45 429L198.15 429Z" fill="#5b8c35"/>
<path d="M206.1 424.1L208.25 428.1L203.95 428.1Z" fill="#5b8c35"/>
<path d="M211.7 423.3L213.85 427.3L209.55 427.3Z" fill="#5b8c35"/>
<path d="M187.8 427.7L189.95 431.7L185.65 431.7Z" fill="#5b8c35"/>
<path d="M192.2 429L194.35 433L190.05 433Z" fill="#5b8c35"/>
<path d="M196.6 431.1L198.75 435.1L194.45 435.1Z" fill="#5b8c35"/>
<path d="M201 432.4L203.15 436.4L198.85 436.4Z" fill="#5b8c35"/>
<path d="M205.3 432.4L207.45 436.4L203.15 436.4Z" fill="#5b8c35"/>
<path d="M209.7 431.3L211.85 435.3L207.55 435.3Z" fill="#5b8c35"/>
<path d="M214.1 429.7L216.25 433.7L211.95 433.7Z" fill="#5b8c35"/>
<path d="M218.5 428.4L220.65 432.4L216.35 432.4Z" fill="#5b8c35"/>
<path d="M193.6 434.8L195.75 438.8L191.45 438.8Z" fill="#5b8c35"/>
<path d="M206.3 435.1L208.45 439.1L204.15 439.1Z" fill="#5b8c35"/>
<path d="M212.4 434.4L214.55 438.4L210.25 438.4Z" fill="#5b8c35"/>
<path d="M199.9 440.5L202.05 444.5L197.75 444.5Z" fill="#5b8c35"/>
<line x1="185.2" y1="411.1" x2="220.5" y2="411.1" stroke="#000" stroke-width="1.3"/>
<line x1="304.8" y1="368.5" x2="304.8" y2="463.4" stroke="#000" stroke-width="1.4"/>
<line x1="304.1" y1="462.7" x2="445.8" y2="462.7" stroke="#000" stroke-width="1.4"/>
<line x1="301.5" y1="462.7" x2="304.8" y2="462.7" stroke="#000" stroke-width="1"/>
<text x="298.2" y="465.6" font-size="8.2" text-anchor="end" font-family="'Liberation Sans', sans-serif" fill="#222">0</text>
<line x1="301.5" y1="444.18" x2="304.8" y2="444.18" stroke="#000" stroke-width="1"/>
<text x="298.2" y="447.08" font-size="8.2" text-anchor="end" font-family="'Liberation Sans', sans-serif" fill="#222">20</text>
<line x1="301.5" y1="425.66" x2="304.8" y2="425.66" stroke="#000" stroke-width="1"/>
<text x="298.2" y="428.56" font-size="8.2" text-anchor="end" font-family="'Liberation Sans', sans-serif" fill="#222">40</text>
<line x1="301.5" y1="407.14" x2="304.8" y2="407.14" stroke="#000" stroke-width="1"/>
<text x="298.2" y="410.04" font-size="8.2" text-anchor="end" font-family="'Liberation Sans', sans-serif" fill="#222">60</text>
<line x1="301.5" y1="388.62" x2="304.8" y2="388.62" stroke="#000" stroke-width="1"/>
<text x="298.2" y="391.52" font-size="8.2" text-anchor="end" font-family="'Liberation Sans', sans-serif" fill="#222">80</text>
<line x1="301.5" y1="370.1" x2="304.8" y2="370.1" stroke="#000" stroke-width="1"/>
<text x="298.2" y="373" font-size="8.2" text-anchor="end" font-family="'Liberation Sans', sans-serif" fill="#222">100</text>
<line x1="304.8" y1="462.7" x2="304.8" y2="465.8" stroke="#000" stroke-width="1"/>
<text x="304.8" y="475.8" font-size="8.2" text-anchor="middle" font-family="'Liberation Sans', sans-serif" fill="#222">0</text>
<line x1="351" y1="462.7" x2="351" y2="465.8" stroke="#000" stroke-width="1"/>
<text x="351" y="475.8" font-size="8.2" text-anchor="middle" font-family="'Liberation Sans', sans-serif" fill="#222">500</text>
<line x1="397.2" y1="462.7" x2="397.2" y2="465.8" stroke="#000" stroke-width="1"/>
<text x="397.2" y="475.8" font-size="8.2" text-anchor="middle" font-family="'Liberation Sans', sans-serif" fill="#222">1000</text>
<line x1="443.4" y1="462.7" x2="443.4" y2="465.8" stroke="#000" stroke-width="1"/>
<text x="443.4" y="475.8" font-size="8.2" text-anchor="middle" font-family="'Liberation Sans', sans-serif" fill="#222">1500</text>
<text x="375.6" y="490.4" font-size="10" font-weight="bold" text-anchor="middle" textLength="15" lengthAdjust="spacingAndGlyphs" font-family="'Liberation Sans', sans-serif" fill="#222">Days</text>
<text transform="translate(277.6,414.6) rotate(-90)" font-size="9.2" font-weight="bold" text-anchor="middle" textLength="102" lengthAdjust="spacingAndGlyphs" font-family="'Liberation Sans', sans-serif" fill="#222">Percent progression free survival</text>
<path d="M304.2 368.7H306.63V369.63H309.07V370.57H311.5V371.5H314.07V372.8H316.63V374.1H319.2V375.4H321.77V376.37H324.33V377.33H326.9V378.3H329.47V379.27H332.03V380.23H334.6V381.2H336.83V382.8H339.07V384.4H341.3V386H344.2V386.93H347.1V387.87H350V388.8H352.57V390.43H355.13V392.07H357.7V393.7H361.5V395.6H365.4V399.4H367.9V400.1H370.4V400.8H373.3V402.7H376.2V404.6H379.05V405.55H381.9V406.5H385.8V410.4H388.7V416.2H391.5V419H393.5V421.5H395.8V421.5H398.1V421.5H400.4V421.5H402.7V421.5H405V421.5H407.3V421.5H409.6V421.5H411.9V421.5H414.2V421.5H416.5V421.5" fill="none" stroke="#243f6e" stroke-width="1.5"/>
<path d="M304.2 369.6H306.5V370.6H308.7V372H310.5V374.5H311.5V377.3H314V378.2H317.3V379.3H318.6V381.8H320.2V384H322V385H324V386H327.9V387H329.2V389.5H329.8V391.7H330.4V395H330.8V400.3H334V400.3H337.7V401H338.7V404.6H343V404.6H345.4V405.5H347.2V416.3H355V416.5H362.2V428H364.8V439.7H390.6" fill="none" stroke="#a3163c" stroke-width="1.4"/>
<line x1="397.3" y1="419.6" x2="397.3" y2="421.5" stroke="#243f6e" stroke-width="0.9"/>
<line x1="401.2" y1="419.6" x2="401.2" y2="421.5" stroke="#243f6e" stroke-width="0.9"/>
<line x1="405" y1="419.6" x2="405" y2="421.5" stroke="#243f6e" stroke-width="0.9"/>
<line x1="408.8" y1="419.6" x2="408.8" y2="421.5" stroke="#243f6e" stroke-width="0.9"/>
<line x1="412.7" y1="419.6" x2="412.7" y2="421.5" stroke="#243f6e" stroke-width="0.9"/>
<line x1="350.2" y1="414.5" x2="350.2" y2="416.4" stroke="#a3163c" stroke-width="0.9"/>
<line x1="354" y1="414.5" x2="354" y2="416.4" stroke="#a3163c" stroke-width="0.9"/>
<line x1="370.4" y1="437.8" x2="370.4" y2="439.7" stroke="#a3163c" stroke-width="0.9"/>
<line x1="335" y1="398.40000000000003" x2="335" y2="400.3" stroke="#a3163c" stroke-width="0.9"/>
<line x1="341.5" y1="402.70000000000005" x2="341.5" y2="404.6" stroke="#a3163c" stroke-width="0.9"/>
<text x="390.8" y="366.7" font-size="7.9" font-family="'Liberation Sans', sans-serif" fill="#222">p <tspan font-size="9.2" dy="0.3">&lt;</tspan><tspan dy="-0.3"> 0.0001</tspan></text>
<line x1="385.9" y1="383.1" x2="396.7" y2="383.1" stroke="#243f6e" stroke-width="1.3"/>
<line x1="385.9" y1="393.1" x2="396.7" y2="393.1" stroke="#a3163c" stroke-width="1.3"/>
<text x="398.8" y="385.9" font-size="7.8" font-family="'Liberation Sans', sans-serif" fill="#222"><tspan font-style="italic">IL32</tspan> low (lower 85th percentile)</text>
<text x="398.8" y="395.9" font-size="7.8" font-family="'Liberation Sans', sans-serif" fill="#222"><tspan font-style="italic">IL32</tspan> high (upper 15th percentile)</text>
</g>
<rect x="0" y="0" width="520" height="1.4" fill="#000"/>
<rect x="0" y="0" width="1.5" height="500" fill="#000"/>
<rect x="518.3" y="0" width="1.7" height="500" fill="#000"/>
<rect x="0" y="498.3" width="520" height="1.7" fill="#000"/></svg>
</body></html>
